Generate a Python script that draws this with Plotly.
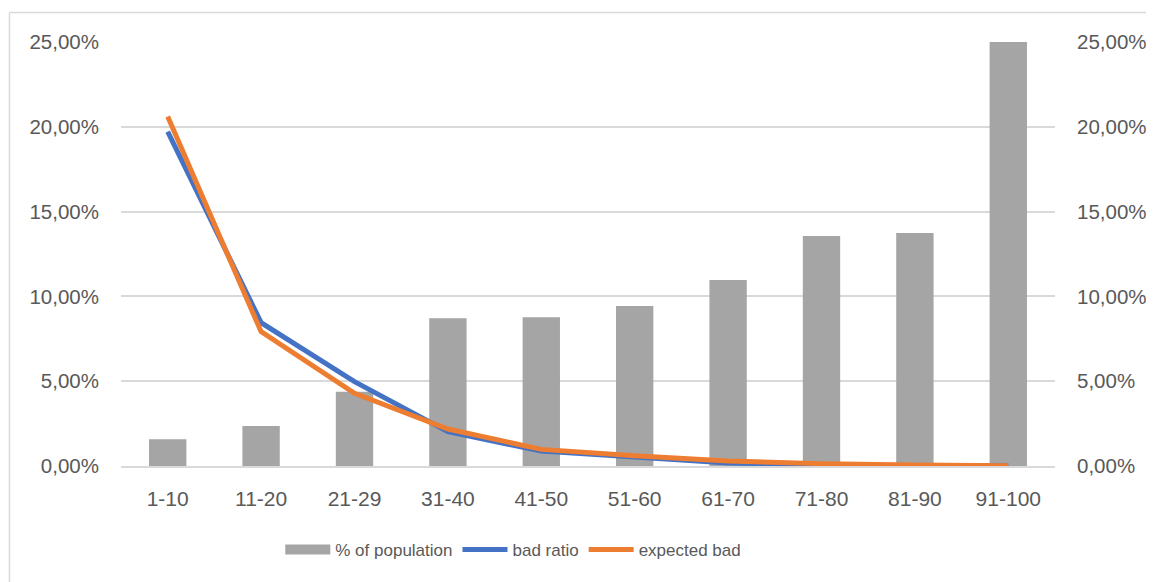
import plotly.graph_objects as go

categories = ["1-10", "11-20", "21-29", "31-40", "41-50", "51-60", "61-70", "71-80", "81-90", "91-100"]
pct_population = [1.57, 2.36, 4.38, 8.71, 8.77, 9.43, 10.97, 13.56, 13.74, 25.0]
bad_ratio = [19.71, 8.45, 4.97, 2.02, 0.88, 0.55, 0.18, 0.05, 0.03, 0.01]
expected_bad = [20.6, 7.92, 4.29, 2.18, 0.98, 0.60, 0.30, 0.14, 0.06, 0.02]

tick_vals = [0, 0.05, 0.10, 0.15, 0.20, 0.25]

fig = go.Figure()
fig.add_trace(go.Bar(x=categories, y=[v / 100 for v in pct_population], name="% of population",
                     marker=dict(color="#A5A5A5", line=dict(width=0)), yaxis="y", showlegend=False))
# legend entry for bars drawn as a wide rectangle (like the original legend swatch)
fig.add_trace(go.Scatter(x=categories, y=[None] * len(categories), name="% of population", mode="lines",
                         line=dict(color="#A5A5A5", width=13), yaxis="y", hoverinfo="skip"))
fig.add_trace(go.Scatter(x=categories, y=[v / 100 for v in bad_ratio], name="bad ratio", mode="lines",
                         line=dict(color="#4472C4", width=5), yaxis="y2"))
fig.add_trace(go.Scatter(x=categories, y=[v / 100 for v in expected_bad], name="expected bad", mode="lines",
                         line=dict(color="#ED7D31", width=5), yaxis="y2"))

font_family = "Liberation Sans, Arial, sans-serif"
axis_common = dict(range=[0, 0.25], tickvals=tick_vals, tickformat=".2%",
                   tickfont=dict(family=font_family, size=20.5, color="#595959"),
                   ticklabelstandoff=21, zeroline=False, fixedrange=True)

fig.update_layout(
    width=1154, height=582,
    margin=dict(l=113, r=107, t=34, b=124),
    paper_bgcolor="white", plot_bgcolor="white",
    separators=",.",
    bargap=0.6,
    showlegend=True,
    legend=dict(orientation="h", x=0.42, xanchor="center", y=-0.198, yanchor="middle",
                font=dict(family=font_family, size=17, color="#595959"),
                itemwidth=45, traceorder="normal", bgcolor="rgba(0,0,0,0)"),
    xaxis=dict(tickfont=dict(family=font_family, size=21, color="#595959"),
               showline=True, linecolor="#D9D9D9", linewidth=1.5, showgrid=False,
               ticks="", ticklabelstandoff=13, fixedrange=True),
    yaxis=dict(**axis_common, showgrid=True, gridcolor="#D9D9D9", gridwidth=1.5, showline=False),
    yaxis2=dict(**axis_common, overlaying="y", side="right", showgrid=False, showline=False),
    shapes=[
        dict(type="line", xref="paper", yref="paper", x0=-0.1194, x1=1.3, y0=1.0696, y1=1.0696,
             line=dict(color="#D9D9D9", width=1.5)),
        dict(type="line", xref="paper", yref="paper", x0=-0.1194, x1=-0.1194, y0=1.0696, y1=-0.5,
             line=dict(color="#D9D9D9", width=1.5)),
    ],
)

fig.write_html("out.html")
